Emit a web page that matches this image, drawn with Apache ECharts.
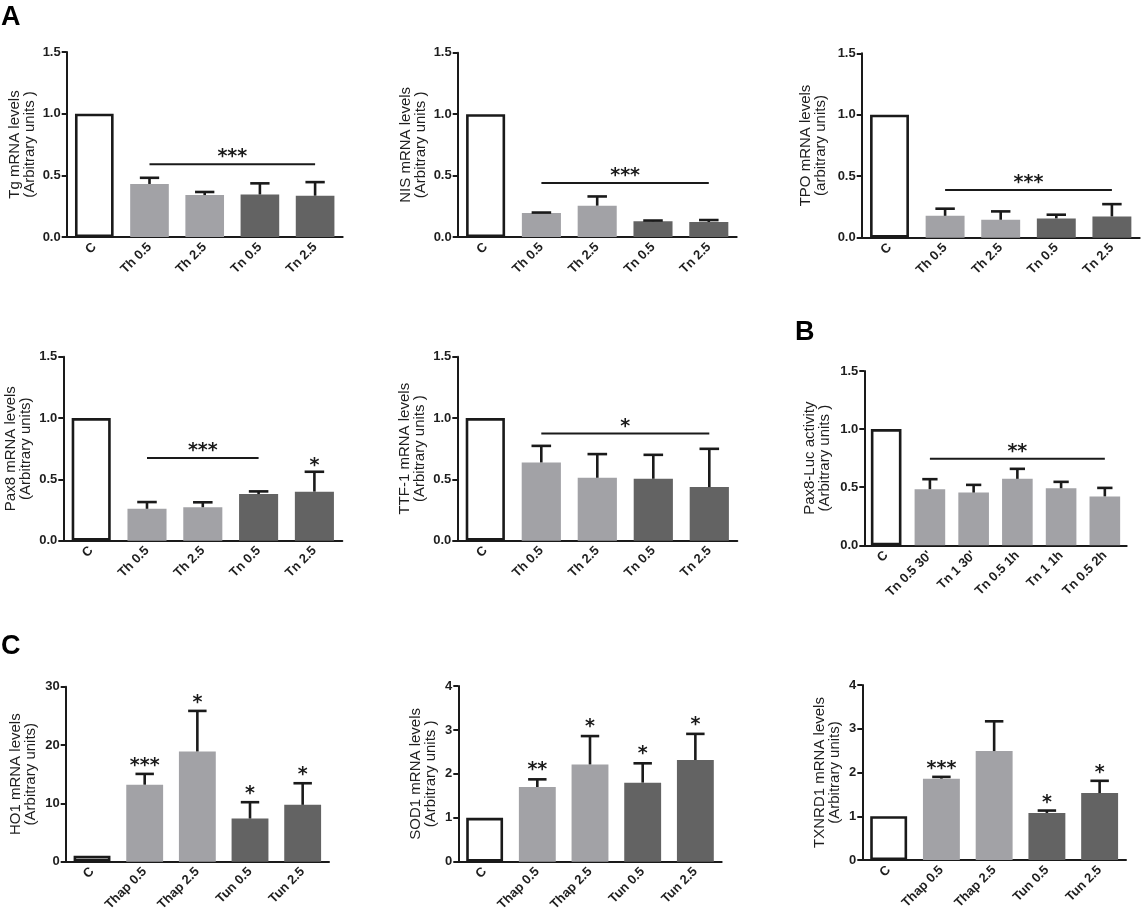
<!DOCTYPE html>
<html>
<head>
<meta charset="utf-8">
<title>Thyroid markers and ER stress</title>
<script src="https://cdn.jsdelivr.net/npm/echarts@6/dist/echarts.min.js"></script>
<style>
  html, body { margin: 0; padding: 0; background: #fff; }
  #chart { width: 1143px; height: 915px; }
</style>
</head>
<body>
<div id="chart"></div>
<script>
// categories
var catsTh = ['C', 'Th 0.5', 'Th 2.5', 'Tn 0.5', 'Tn 2.5'];
var catsLuc = ['C', "Tn 0.5 30'", "Tn 1 30'", 'Tn 0.5 1h', 'Tn 1 1h', 'Tn 0.5 2h'];
var catsThap = ['C', 'Thap 0.5', 'Thap 2.5', 'Tun 0.5', 'Tun 2.5'];

// treatment group of each bar (decides the shade)
var groupsTh = ['C', 'Th', 'Th', 'Tn', 'Tn'];
var groupsLuc = ['C', 'Tn', 'Tn', 'Tn', 'Tn', 'Tn'];
var groupsThap = ['C', 'Thap', 'Thap', 'Tun', 'Tun'];

// panel A
var tgMean = [1.0, 0.43, 0.34, 0.345, 0.335];
var tgSd = [0, 0.05, 0.025, 0.09, 0.11];
var nisMean = [1.0, 0.195, 0.255, 0.128, 0.122];
var nisSd = [0, 0.004, 0.075, 0.006, 0.016];
var tpoMean = [1.0, 0.178, 0.146, 0.157, 0.173];
var tpoSd = [0, 0.058, 0.068, 0.03, 0.1];
var pax8Mean = [1.0, 0.26, 0.273, 0.38, 0.4];
var pax8Sd = [0, 0.055, 0.04, 0.022, 0.162];
var ttfMean = [1.0, 0.638, 0.513, 0.505, 0.437];
var ttfSd = [0, 0.135, 0.193, 0.195, 0.312];

// panel B
var lucMean = [1.0, 0.483, 0.454, 0.572, 0.491, 0.421];
var lucSd = [0, 0.086, 0.066, 0.086, 0.055, 0.073];

// panel C
var ho1Mean = [1.0, 13.2, 18.9, 7.4, 9.75];
var ho1Sd = [0, 1.85, 6.95, 2.8, 3.7];
var sod1Mean = [1.0, 1.7, 2.215, 1.8, 2.315];
var sod1Sd = [0, 0.175, 0.645, 0.44, 0.595];
var txnMean = [1.0, 1.86, 2.49, 1.075, 1.53];
var txnSd = [0, 0.04, 0.68, 0.055, 0.28];

// significance: [first bar, last bar, level, mark]
var tgBracket = [1, 4, 0.59, '***'];
var nisBracket = [1, 4, 0.44, '***'];
var tpoBracket = [1, 4, 0.388, '***'];
var pax8Bracket = [1, 3, 0.675, '***'];
var ttfBracket = [1, 4, 0.873, '*'];
var lucBracket = [1, 5, 0.744, '**'];

// marks over single bars
var pax8Stars = ['', '', '', '', '*'];
var ho1Stars = ['', '***', '*', '*', '*'];
var sod1Stars = ['', '**', '*', '*', '*'];
var txnStars = ['', '***', '', '*', '*'];

// y axes: [max, step, decimals]
var yFold = [1.5, 0.5, 1];
var yHo1 = [30, 10, 0];
var ySod = [4, 1, 0];

var LIGHT = '#a2a2a6';
var DARK = '#636363';
var INK = '#1a1a1a';
var shadeTh = { C: '#fff', Th: LIGHT, Tn: DARK, Thap: LIGHT, Tun: DARK };
var shadeLuc = { C: '#fff', Tn: LIGHT };

var panels = [
  { grid: [66.7, 52, 276, 185], cats: catsTh, groups: groupsTh, shade: shadeTh, mean: tgMean, sd: tgSd, y: yFold,
    name: 'Tg mRNA levels\n(Arbitrary units )', gap: 29, bracket: tgBracket },
  { grid: [457.7, 52.7, 279, 184.3], cats: catsTh, groups: groupsTh, shade: shadeTh, mean: nisMean, sd: nisSd, y: yFold,
    name: 'NIS mRNA levels\n(Arbitrary units )', gap: 29, bracket: nisBracket },
  { grid: [861.7, 53.3, 278, 184.4], cats: catsTh, groups: groupsTh, shade: shadeTh, mean: tpoMean, sd: tpoSd, y: yFold,
    name: 'TPO mRNA levels\n(arbitrary units)', gap: 33, bracket: tpoBracket },
  { grid: [63.3, 356.7, 279, 184], cats: catsTh, groups: groupsTh, shade: shadeTh, mean: pax8Mean, sd: pax8Sd, y: yFold,
    name: 'Pax8 mRNA levels\n(Arbitrary units)', gap: 30, bracket: pax8Bracket, stars: pax8Stars, starGap: 10 },
  { grid: [457.3, 356.7, 280, 184], cats: catsTh, groups: groupsTh, shade: shadeTh, mean: ttfMean, sd: ttfSd, y: yFold,
    name: 'TTF-1 mRNA levels\n(Arbitrary units )', gap: 30, bracket: ttfBracket },
  { grid: [864.3, 371, 262.4, 174.3], cats: catsLuc, groups: groupsLuc, shade: shadeLuc, mean: lucMean, sd: lucSd, y: yFold,
    name: 'Pax8-Luc activity\n(Arbitrary units )', gap: 32, bracket: lucBracket },
  { grid: [65.7, 686.7, 263.3, 175], cats: catsThap, groups: groupsThap, shade: shadeTh, mean: ho1Mean, sd: ho1Sd, y: yHo1,
    name: 'HO1 mRNA levels\n(Arbitrary units)', gap: 27, stars: ho1Stars, starGap: 12 },
  { grid: [458.3, 686, 263.4, 175.7], cats: catsThap, groups: groupsThap, shade: shadeTh, mean: sod1Mean, sd: sod1Sd, y: ySod,
    name: 'SOD1 mRNA levels\n(Arbitrary units )', gap: 20, stars: sod1Stars, starGap: 13 },
  { grid: [862.3, 685, 263.7, 175], cats: catsThap, groups: groupsThap, shade: shadeTh, mean: txnMean, sd: txnSd, y: ySod,
    name: 'TXNRD1 mRNA levels\n(Arbitrary units)', gap: 20, stars: txnStars, starGap: 12 }
];

var BAR_RATIO = 0.7;
var FONT = 'Liberation Sans';
var starFont = 'bold 19px "DejaVu Sans"';

function errRender(params, api) {
  var x = api.value(0);
  var lo = api.coord([x, api.value(1)]);
  var hi = api.coord([x, api.value(2)]);
  var half = api.size([1, 0])[0] * BAR_RATIO * 0.25;
  var st = { stroke: INK, lineWidth: 2.6 };
  return {
    type: 'group',
    children: [
      { type: 'line', shape: { x1: lo[0], y1: lo[1], x2: hi[0], y2: hi[1] }, style: st },
      { type: 'line', shape: { x1: hi[0] - half, y1: hi[1], x2: hi[0] + half, y2: hi[1] }, style: st }
    ]
  };
}

function starRender(marks, gap) {
  return function (params, api) {
    var txt = marks[params.dataIndex];
    if (!txt) return null;
    var p = api.coord([api.value(0), api.value(1)]);
    return {
      type: 'text',
      style: { text: txt, x: p[0], y: p[1] - gap + 4, font: starFont, fill: INK, align: 'center', verticalAlign: 'middle' }
    };
  };
}

function bracketRender(mark) {
  return function (params, api) {
    var a = api.coord([api.value(0), api.value(2)]);
    var b = api.coord([api.value(1), api.value(2)]);
    return {
      type: 'group',
      children: [
        { type: 'line', shape: { x1: a[0], y1: a[1], x2: b[0], y2: b[1] }, style: { stroke: INK, lineWidth: 2 } },
        { type: 'text', style: { text: mark, x: (a[0] + b[0]) / 2, y: a[1] - 7, font: starFont, fill: INK, align: 'center', verticalAlign: 'middle' } }
      ]
    };
  };
}

var grids = [], xAxes = [], yAxes = [], series = [];

panels.forEach(function (p, i) {
  grids.push({ left: p.grid[0], top: p.grid[1], width: p.grid[2], height: p.grid[3] });

  xAxes.push({
    type: 'category', gridIndex: i, data: p.cats,
    axisLine: { lineStyle: { color: INK, width: 2 } },
    axisTick: { alignWithLabel: true, length: 5, lineStyle: { color: INK, width: 2 } },
    axisLabel: { rotate: 45, interval: 0, margin: 8, fontSize: 13, fontWeight: 'bold', color: '#1e1e1e', fontFamily: FONT }
  });

  var dec = p.y[2];
  yAxes.push({
    type: 'value', gridIndex: i, min: 0, max: p.y[0], interval: p.y[1],
    name: p.name, nameLocation: 'middle', nameRotate: 90, nameGap: p.gap,
    nameTextStyle: { fontSize: 15, lineHeight: 15, color: '#1e1e1e', fontFamily: FONT },
    axisLine: { show: true, lineStyle: { color: INK, width: 2 } },
    axisTick: { show: true, length: 5, lineStyle: { color: INK, width: 2 } },
    splitLine: { show: false },
    axisLabel: { margin: 6, fontSize: 13, fontWeight: 'bold', color: '#1e1e1e', fontFamily: FONT,
      formatter: function (v) { return v.toFixed(dec); } }
  });

  series.push({
    type: 'bar', xAxisIndex: i, yAxisIndex: i, barWidth: (BAR_RATIO * 100) + '%',
    silent: true,
    data: p.mean.map(function (v, k) {
      var g = p.groups[k];
      var isCtrl = g === 'C';
      return {
        value: v,
        itemStyle: isCtrl
          ? { color: '#fff', borderColor: INK, borderWidth: 2.6 }
          : { color: p.shade[g] }
      };
    })
  });

  var errData = [];
  p.mean.forEach(function (v, k) {
    if (p.sd[k] > 0) errData.push([k, v, v + p.sd[k]]);
  });
  series.push({
    type: 'custom', xAxisIndex: i, yAxisIndex: i, silent: true,
    renderItem: errRender, data: errData, z: 3
  });

  if (p.stars) {
    series.push({
      type: 'custom', xAxisIndex: i, yAxisIndex: i, silent: true, z: 4,
      renderItem: starRender(p.stars, p.starGap),
      data: p.mean.map(function (v, k) { return [k, v + p.sd[k]]; })
    });
  }

  if (p.bracket) {
    series.push({
      type: 'custom', xAxisIndex: i, yAxisIndex: i, silent: true, z: 4,
      renderItem: bracketRender(p.bracket[3]),
      encode: { x: [0, 1], y: 2 },
      data: [[p.bracket[0], p.bracket[1], p.bracket[2]]]
    });
  }
});

var chart = echarts.init(document.getElementById('chart'), null, { renderer: 'canvas' });
chart.setOption({
  animation: false,
  backgroundColor: '#fff',
  textStyle: { fontFamily: FONT },
  grid: grids,
  xAxis: xAxes,
  yAxis: yAxes,
  series: series,
  graphic: [
    { type: 'text', left: 1, top: 4, style: { text: 'A', font: 'bold 27px "Liberation Sans"', fill: '#000' } },
    { type: 'text', left: 795, top: 319, style: { text: 'B', font: 'bold 27px "Liberation Sans"', fill: '#000' } },
    { type: 'text', left: 1, top: 633, style: { text: 'C', font: 'bold 27px "Liberation Sans"', fill: '#000' } }
  ]
});
</script>
</body>
</html>
